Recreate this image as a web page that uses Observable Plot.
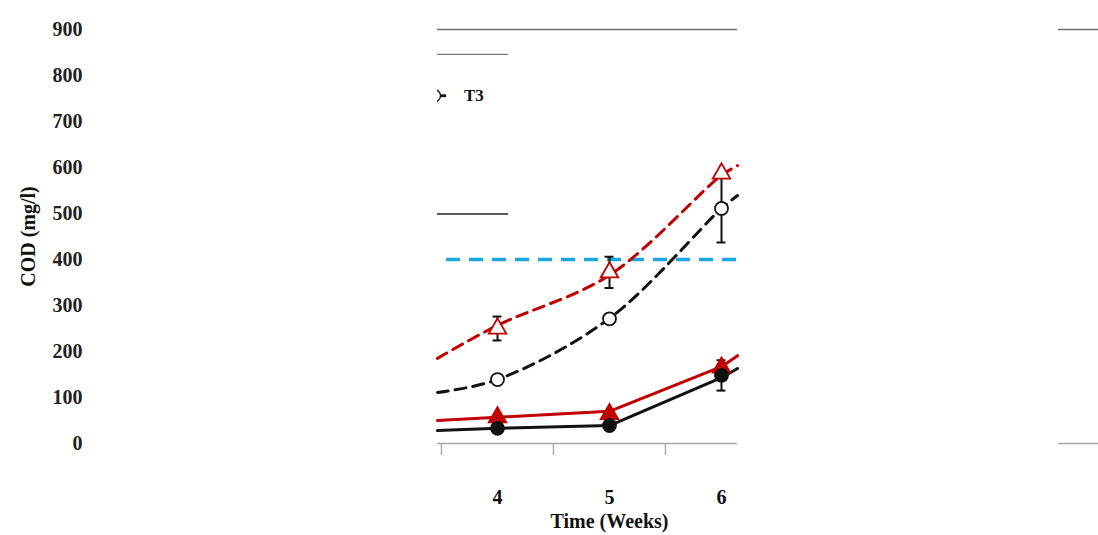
<!DOCTYPE html>
<html>
<head>
<meta charset="utf-8">
<script src="https://cdn.jsdelivr.net/npm/d3@7"></script>
<script src="https://cdn.jsdelivr.net/npm/@observablehq/plot@0.6"></script>
<style>
  html, body { margin: 0; padding: 0; background: #fff; }
  #chart svg { display: block; }
</style>
</head>
<body>
<div id="chart"></div>
<script>
// ---- data ----
const weeks = [4, 5, 6];
const yTicks = [0, 100, 200, 300, 400, 500, 600, 700, 800, 900];
const bandEdges = [3.5, 4.5, 5.5];

// markers
const openTriangle = [250, 372, 587];     // red dashed series, open triangles
const openTriangleErr = [26, 34, 0];
const openCircle = [139, 271, 511];       // black dashed series, open circles
const openCircleErr = [0, 0, 74];
const filledTriangle = [57, 64, 165];     // red solid series
const filledTriangleErr = [0, 0, 0];
const filledCircle = [33, 39, 148];       // black solid series
const filledCircleErr = [0, 0, 33];

// line traces (week position, value) across the visible window
const lineWeeks = [3.464, 4, 5, 6, 6.143];
const redDashedLine = [185, 257, 366, 583, 604];
const blackDashedLine = [111, 139, 272, 511, 539];
const redSolidLine = [50, 57, 70, 167, 191];
const blackSolidLine = [28, 33, 39, 143, 163];

const standardValue = 400;          // blue dashed limit line
const standardSpan = [3.545, 6.143];

// visible window segments of the frame (weeks)
const frameSegments = [[3.4643, 6.1429], [9.0089, 9.3661]];
const xDomain = [3.4643, 9.3661];

// legend remnants
const legendLabel = "T3";
const legendRow = 756;
const legendBoxLines = [{v: 846, color: "#777", w: 1.2}, {v: 499, color: "#222", w: 1.5}];
const legendBoxSpan = [3.4643, 4.098];

// ---- build tables ----
const mk = (vals, errs) => weeks.map((w, i) => ({week: w, v: vals[i], e: errs[i]}));
const series = [
  {pts: mk(openTriangle, openTriangleErr), line: redDashedLine, color: "#c00000", dash: "11,7", sym: "triangle", fill: "white", curve: "catmull-rom"},
  {pts: mk(openCircle, openCircleErr), line: blackDashedLine, color: "#111", dash: "11,7", sym: "circle", fill: "white", curve: "catmull-rom"},
  {pts: mk(filledTriangle, filledTriangleErr), line: redSolidLine, color: "#c00000", dash: null, sym: "triangle", fill: "#c00000", curve: "linear"},
  {pts: mk(filledCircle, filledCircleErr), line: blackSolidLine, color: "#111", dash: null, sym: "circle", fill: "#111", curve: "linear"}
];

const font = "'Liberation Serif', 'Times New Roman', serif";
const segs = frameSegments.map(([a, b]) => ({a, b}));

const marks = [];

// frame top and bottom segments
marks.push(Plot.ruleY(segs, {y: () => 900, x1: "a", x2: "b", stroke: "#707070", strokeWidth: 1.3}));
marks.push(Plot.ruleY(segs, {y: () => 0, x1: "a", x2: "b", stroke: "#a8a8a8", strokeWidth: 1.5}));

// legend remnants
marks.push(Plot.ruleY(legendBoxLines, {y: "v", x1: () => legendBoxSpan[0], x2: () => legendBoxSpan[1], stroke: d => d.color, strokeWidth: d => d.w}));
marks.push(Plot.ruleY([legendRow], {x1: 3.38, x2: 3.545, stroke: "#111", strokeWidth: 2.8, clip: true}));
marks.push(Plot.dot([legendRow], {x: 3.4375, y: d => d, r: 6, fill: "white", stroke: "#111", strokeWidth: 1.3, clip: true}));
marks.push(Plot.text([legendLabel], {x: 3.70, y: () => legendRow, textAnchor: "start", fontFamily: font, fontWeight: "bold", fontSize: 17, fill: "#111"}));

// standard line
marks.push(Plot.ruleY([standardValue], {x1: standardSpan[0], x2: standardSpan[1], stroke: "#1aa6e0", strokeWidth: 3.6, strokeDasharray: "14,9"}));

// series lines
for (const s of series) {
  const pts = lineWeeks.map((w, i) => ({week: w, v: s.line[i]}));
  marks.push(Plot.line(pts, {x: "week", y: "v", stroke: s.color, strokeWidth: 3, strokeDasharray: s.dash, curve: s.curve}));
}
// error bars and markers
for (const s of series) {
  const ep = s.pts.filter(d => d.e > 0);
  marks.push(Plot.ruleX(ep, {x: "week", y1: d => d.v - d.e, y2: d => d.v + d.e, stroke: "#111", strokeWidth: 2}));
  marks.push(Plot.ruleY(ep, {y: d => d.v - d.e, x1: d => d.week - 0.04, x2: d => d.week + 0.04, stroke: "#111", strokeWidth: 2}));
  marks.push(Plot.ruleY(ep, {y: d => d.v + d.e, x1: d => d.week - 0.04, x2: d => d.week + 0.04, stroke: "#111", strokeWidth: 2}));
}
for (const s of series) {
  marks.push(Plot.dot(s.pts, {x: "week", y: "v", symbol: () => s.sym, r: 6.5, fill: s.fill, stroke: s.color, strokeWidth: 1.8}));
}

// axes
marks.push(Plot.axisY(yTicks, {anchor: "left", tickSize: 0, tickPadding: 355, tickFormat: d => String(d), fontSize: 20, fontWeight: "bold", fontFamily: font, fill: "#222", label: null}));
marks.push(Plot.text(["COD (mg/l)"], {frameAnchor: "left", textAnchor: "middle", rotate: -90, dx: -409, fontSize: 20, fontWeight: "bold", fontFamily: font, fill: "#111"}));
marks.push(Plot.axisX(bandEdges, {anchor: "bottom", tickSize: 12, stroke: "#a8a8a8", strokeWidth: 1.5, tickFormat: () => "", label: null}));
marks.push(Plot.axisX(weeks, {anchor: "bottom", tickSize: 0, tickPadding: 46, tickFormat: d => String(d), fontSize: 20, fontWeight: "bold", fontFamily: font, fill: "#111", label: null}));
marks.push(Plot.text(["Time (Weeks)"], {x: weeks[1], frameAnchor: "bottom", dy: 84, fontSize: 20, fontWeight: "bold", fontFamily: font, fill: "#111"}));

const chart = Plot.plot({
  width: 1098,
  height: 535,
  marginLeft: 437,
  marginRight: 0,
  marginTop: 29,
  marginBottom: 92,
  x: {type: "linear", domain: xDomain},
  y: {domain: [0, 900]},
  style: {background: "white", overflow: "visible"},
  marks
});
document.getElementById("chart").appendChild(chart);
</script>
</body>
</html>
